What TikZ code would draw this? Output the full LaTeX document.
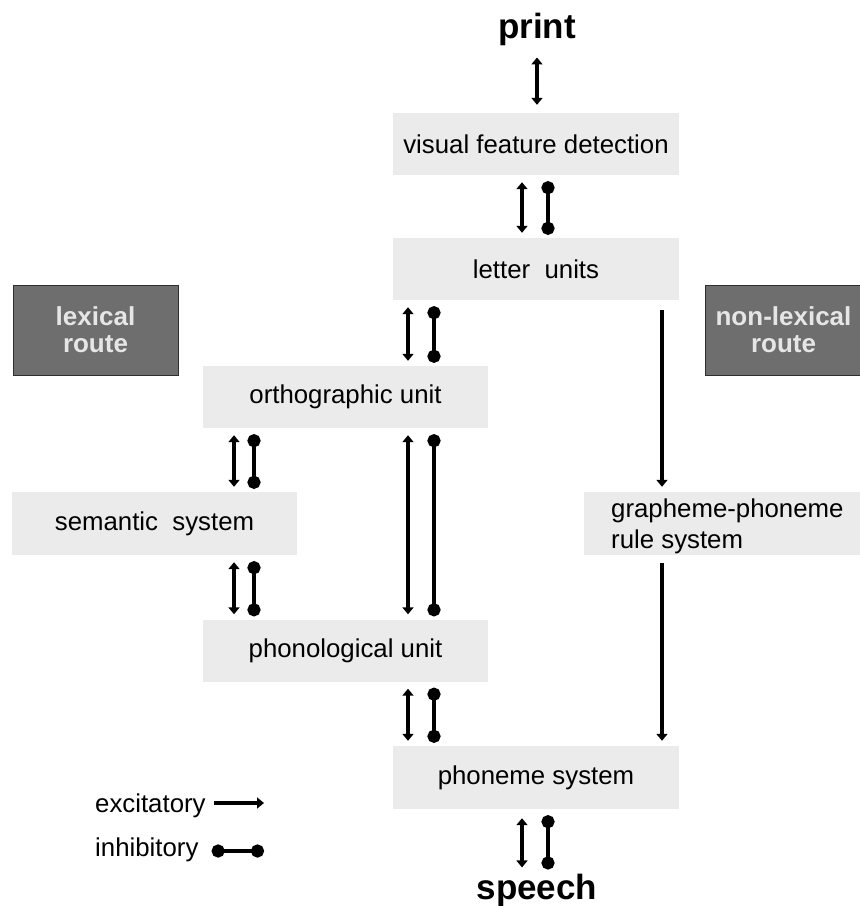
\documentclass[tikz,border=0pt]{standalone}
\usepackage{fontspec}
\setmainfont{Liberation Sans}
\usetikzlibrary{arrows.meta}
\definecolor{boxgray}{HTML}{EBEBEB}
\definecolor{routegray}{HTML}{6E6E6E}
\definecolor{routeedge}{HTML}{2E2E2E}
\definecolor{routetext}{HTML}{E6E6E6}
\begin{document}
\begin{tikzpicture}[x=1pt,y=-1pt,
  unit/.style={fill=boxgray, minimum height=62pt, inner sep=0pt,
    font=\fontsize{25.8}{31}\selectfont},
  route/.style={fill=routegray, draw=routeedge, line width=1pt,
    minimum height=90pt, inner sep=0pt, text=routetext, align=center,
    font=\bfseries\fontsize{26}{27}\selectfont},
  io/.style={inner sep=0pt, font=\bfseries\fontsize{35}{40}\selectfont},
  legend/.style={inner sep=0pt, anchor=base west, font=\fontsize{25.8}{31}\selectfont},
  exc/.style={line width=3.4pt, {Triangle[length=7pt,width=11pt]}-{Triangle[length=7pt,width=11pt]},
    shorten <=7pt, shorten >=5pt},
  excone/.style={line width=3.4pt, -{Triangle[length=7pt,width=11pt]}},
  inh/.style={line width=4.8pt, {Circle[length=13pt]}-{Circle[length=13pt]},
    shorten <=6pt, shorten >=3pt}
]
\useasboundingbox (0,0) rectangle (860,906);

% processing units
\node[unit, minimum width=286pt] (vfd)  at (536,144)   {visual feature detection};
\node[unit, minimum width=286pt] (let)  at (536,269)   {letter~~units};
\node[unit, minimum width=285pt] (orth) at (345.5,397) {orthographic unit};
\node[unit, minimum width=285pt, minimum height=63pt] (sem) at (154.5,523.5) {semantic~~system};
\node[unit, minimum width=285pt] (phon) at (345.5,650.5) {phonological unit};
\node[unit, minimum width=276pt, minimum height=63pt] (gpr) at (722,523.5) {};
\node[unit, anchor=west, align=left, fill=none] (gprtext) at (611,526)
  {grapheme-phoneme\\rule system};
\node[unit, minimum width=286pt, minimum height=63pt] (phm) at (536,777.5) {phoneme system};

% route labels
\node[route, minimum width=165pt] (lex) at (95.5,330) {lexical\\route};
\node[route, minimum width=157pt] (nonlex) at (783.5,330) {non-lexical\\route};

% input and output
\node[io, anchor=base] (print)  at (537,38)  {print};
\node[io, anchor=base] (speech) at (537,899) {speech};

% print <-> visual feature detection
\draw[exc, shorten <=12pt, shorten >=8pt] (print.south -| 537,0) -- (vfd.north -| 537,0);

% visual feature detection <-> letter units
\draw[exc] (vfd.south -| 522,0) -- (let.north -| 522,0);
\draw[inh] (vfd.south -| 548,0) -- (let.north -| 548,0);

% letter units <-> orthographic unit
\draw[exc] (let.south -| 408,0) -- (orth.north -| 408,0);
\draw[inh] (let.south -| 434,0) -- (orth.north -| 434,0);

% orthographic unit <-> semantic system
\draw[exc] (orth.south -| 234,0) -- (sem.north -| 234,0);
\draw[inh] (orth.south -| 254,0) -- (sem.north -| 254,0);

% orthographic unit <-> phonological unit (direct)
\draw[exc] (orth.south -| 408,0) -- (phon.north -| 408,0);
\draw[inh] (orth.south -| 434,0) -- (phon.north -| 434,0);

% semantic system <-> phonological unit
\draw[exc] (sem.south -| 234,0) -- (phon.north -| 234,0);
\draw[inh] (sem.south -| 254,0) -- (phon.north -| 254,0);

% phonological unit <-> phoneme system
\draw[exc] (phon.south -| 408,0) -- (phm.north -| 408,0);
\draw[inh] (phon.south -| 434,0) -- (phm.north -| 434,0);

% phoneme system <-> speech
\draw[exc, shorten <=9pt, shorten >=6pt] (phm.south -| 522,0) -- (speech.north -| 522,0);
\draw[inh, shorten <=6pt, shorten >=4pt] (phm.south -| 548,0) -- (speech.north -| 548,0);

% non-lexical route
\draw[excone, shorten <=10pt, shorten >=5pt] (let.south -| 662,0) -- (gpr.north -| 662,0);
\draw[excone, shorten <=8pt, shorten >=5pt] (gpr.south -| 662,0) -- (phm.north -| 662,0);

% legend
\node[legend] (lgexc) at (95,812) {excitatory};
\node[legend] (lginh) at (95,856) {inhibitory};
\coordinate (lgexcend) at (264,803);
\coordinate (lginhend) at (264,851);
\draw[excone] (lgexc.east |- lgexcend) ++(8,0) -- (lgexcend);
\draw[inh, shorten <=0pt, shorten >=0pt] (lginh.east |- lginhend) ++(13,0) -- (lginhend);
\end{tikzpicture}
\end{document}
